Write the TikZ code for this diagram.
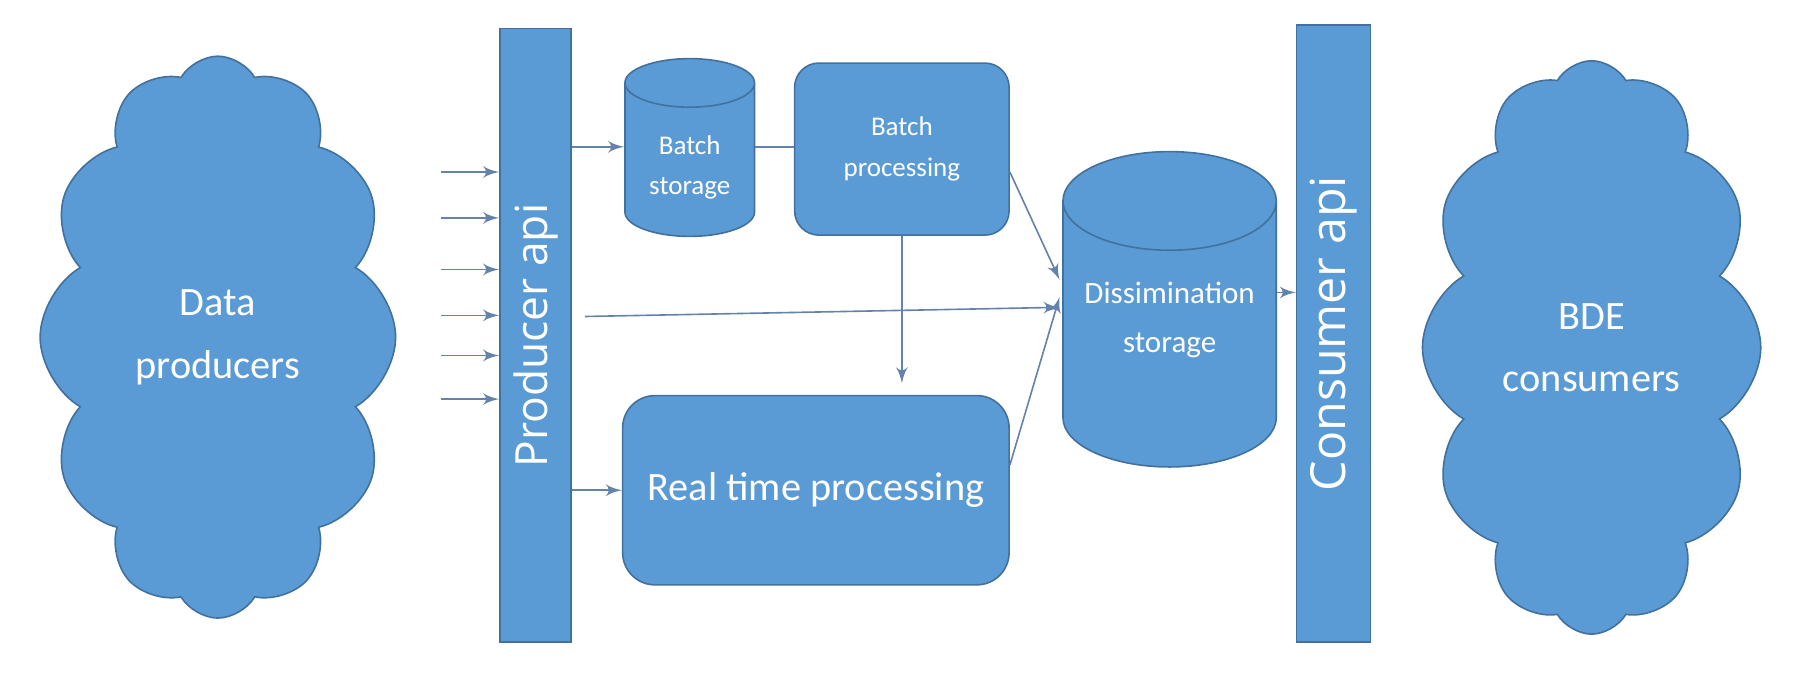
\documentclass[tikz,border=0pt]{standalone}
\usepackage{fontspec}
\setmainfont{Carlito}
\newfontfamily\apifont{Open Sans}
\usetikzlibrary{positioning,shapes,arrows}
\usepackage{xcolor}
\definecolor{boxblue}{RGB}{91,155,213}
\definecolor{edgeblue}{RGB}{65,113,156}
\definecolor{linkgray}{RGB}{100,130,170}

\begin{document}
\begin{tikzpicture}[
    f/.style={->,thin,>=latex',draw=linkgray},%
    l/.style={thin,draw=linkgray},%
    b/.style={draw=edgeblue,fill=boxblue,text=white,align=center},%
    c/.style={b,cylinder,shape border rotate=90,aspect=0.45},%
    a/.style={b,rotate=90,font=\apifont\fontsize{11}{13}\selectfont},%
    k/.style={b,cloud,cloud puffs=12,cloud puff arc=120,cloud ignores aspect,font=\fontsize{10}{15.5}\selectfont}]
    \useasboundingbox (0,0) rectangle (15.68,-5.88);
    \node[k,minimum width=3.1cm,minimum height=4.9cm] (prods) at (1.90,-2.94) {Data\\producers} ;
    \node[k,minimum width=2.95cm,minimum height=5.0cm] (cons) at (13.88,-3.03) {BDE\\consumers} ;
    \node[a,minimum width=5.35cm,minimum height=0.52cm] (prod) at (4.67,-2.925) {Producer api} ;
    \node[a,minimum width=5.38cm,minimum height=0.54cm,font=\apifont\fontsize{12}{14}\selectfont] (capi) at (11.63,-2.91) {Consumer api} ;
    \node[c,minimum width=1.13cm,minimum height=1.55cm,font=\fontsize{6.7}{10}\selectfont] (bs) at (6.015,-1.46) {Batch\\storage} ;
    \node[b,rounded corners=6pt,minimum width=1.87cm,minimum height=1.5cm,font=\fontsize{6.7}{10}\selectfont] (bp) at (7.865,-1.30) {Batch\\processing} ;
    \node[b,rounded corners=8pt,minimum width=3.37cm,minimum height=1.65cm,font=\fontsize{10}{12}\selectfont] (rt) at (7.115,-4.275) {Real time processing} ;
    \node[c,aspect=0.5,minimum width=1.86cm,minimum height=2.75cm,font=\fontsize{7.7}{12}\selectfont] (diss) at (10.20,-3.02) {\phantom{Dissimination}\\\phantom{storage}} ;
    \node[text=white,align=center,font=\fontsize{7.7}{12}\selectfont] (disst) at (10.20,-2.79) {Dissimination\\storage} ;
    \foreach \y [count=\i] in {1.50,1.90,2.35,2.75,3.10,3.48}
        {\coordinate (in\i) at (3.85,-\y);
         \draw[f] (in\i) -- (in\i -| prod.north);}
    \coordinate (bsy) at (0,-1.28) ;
    \draw[f] (bsy -| prod.south) -- (bsy -| bs.west) ;
    \draw[l] (bsy -| bs.east) -- (bsy -| bp.west) ;
    \draw[f] (bp.south) -- ([yshift=1mm]bp.south |- rt.north) ;
    \draw[f] (rt.west -| prod.south) -- (rt.west) ;
    \coordinate (dw) at (9.24,-2.68) ;
    \coordinate (mid) at (5.10,-2.76) ;
    \draw[f] ([yshift=-2mm]bp.east) -- ([yshift=2.4mm]dw) ;
    \draw[f] (mid) -- (dw) ;
    \draw[f] ([yshift=2.2mm]rt.east) -- ([yshift=0.9mm]dw) ;
    \coordinate (d2c) at (diss.east |- 0,-2.55) ;
    \draw[f] (d2c) -- (d2c -| capi.north) ;
\end{tikzpicture}
\end{document}
